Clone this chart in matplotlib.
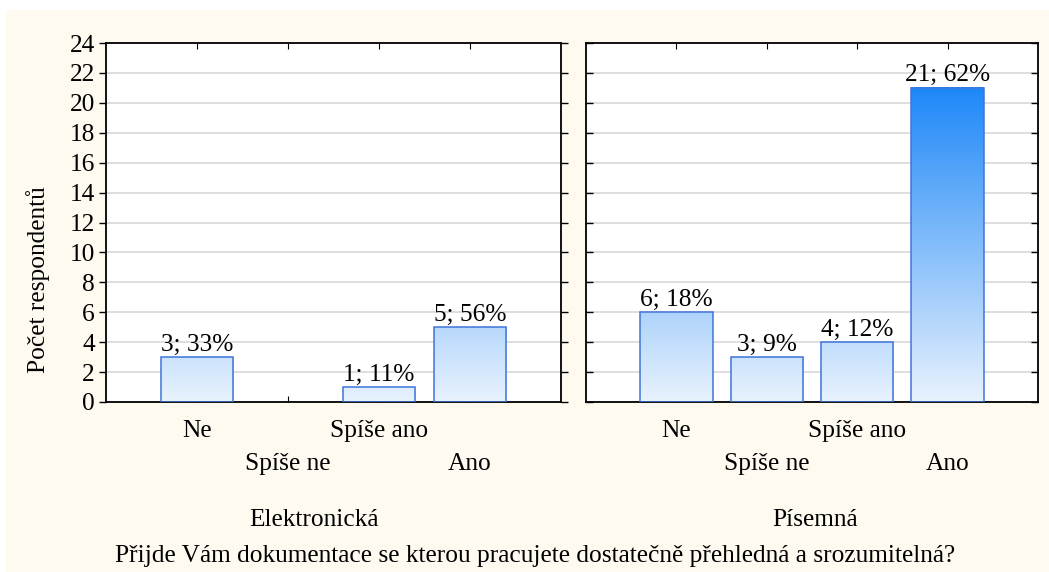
import numpy as np
import matplotlib
matplotlib.use("Agg")
import matplotlib.pyplot as plt
from matplotlib.colors import LinearSegmentedColormap
from matplotlib.patches import Rectangle

plt.rcParams['font.family'] = ['Liberation Serif', 'DejaVu Serif']

categories = ["Ne", "Spíše ne", "Spíše ano", "Ano"]
groups = ["Elektronická", "Písemná"]
counts_el = [3, 0, 1, 5]
pct_el = [33, 0, 11, 56]
counts_pis = [6, 3, 4, 21]
pct_pis = [18, 9, 12, 62]
ylabel = "Počet respondentů"
title = "Přijde Vám dokumentace se kterou pracujete dostatečně přehledná a srozumitelná?"

W, H = 1049, 572
fig = plt.figure(figsize=(W / 100, H / 100), dpi=100, facecolor='white')
cream = '#fefaf0'
fig.patches.append(Rectangle((6 / W, 0), 1 - 6 / W, 1 - 10 / H, transform=fig.transFigure,
                             facecolor=cream, edgecolor='none', zorder=-10))

cmap = LinearSegmentedColormap.from_list('bl', ['#e8f2fd', '#1e88f8'])
vmax = max(counts_el + counts_pis)
fs = 18.3


def panel(left, right, counts, pcts, show_y):
    ax = fig.add_axes([left / W, 1 - 402 / H, (right - left) / W, (402 - 43) / H])
    ax.set_facecolor('white')
    ax.yaxis.grid(True, color='#d8d8d8', linewidth=1.2)
    ax.set_axisbelow(True)
    x = np.arange(1, 5)
    for xi, c, p in zip(x, counts, pcts):
        if c <= 0:
            continue
        grad = np.linspace(0, c, 200).reshape(-1, 1)
        ax.imshow(grad, cmap=cmap, vmin=0, vmax=vmax, origin='lower', aspect='auto',
                  extent=(xi - 0.4, xi + 0.4, 0, c), zorder=2, interpolation='bilinear')
        ax.add_patch(Rectangle((xi - 0.4, 0), 0.8, c, facecolor='none',
                               edgecolor='#3f74da', linewidth=1.1, zorder=3))
        ax.text(xi, c + 0.1, f"{c}; {p}%", ha='center', va='bottom', fontsize=fs, zorder=4)
    ax.set_xlim(0, 5)
    ax.set_ylim(0, 24)
    ax.set_yticks(np.arange(0, 25, 2))
    ax.set_xticks(x)
    ax.set_xticklabels([])
    ax.tick_params(axis='x', direction='in', length=4, top=True, bottom=True)
    ax.tick_params(axis='y', labelsize=fs, length=5, width=1, right=True, pad=3)
    if show_y:
        ax.tick_params(axis='y', which='both', direction='out', left=True)
        ax.set_ylabel(ylabel, fontsize=fs, va='center')
        ax.yaxis.set_label_coords(-0.149, 0.34)
    else:
        ax.tick_params(axis='y', direction='in', labelleft=False)
    for s in ax.spines.values():
        s.set_linewidth(1.3)
        s.set_color('black')
    # staggered category labels
    for i, (xi, lab) in enumerate(zip(x, categories)):
        yy = -1.95 if i % 2 == 0 else -4.15
        ax.text(xi, yy, lab, ha='center', va='center', fontsize=fs, clip_on=False)
    return ax


ax1 = panel(106, 561, counts_el, pct_el, True)
ax2 = panel(586, 1038, counts_pis, pct_pis, False)
ax2.tick_params(axis='y', which='both', left=True, direction='in')

fig.text(314 / W, 1 - 520 / H, groups[0], ha='center', va='center', fontsize=fs)
fig.text(815 / W, 1 - 520 / H, groups[1], ha='center', va='center', fontsize=fs)
fig.text(535 / W, 1 - 556 / H, title, ha='center', va='center', fontsize=fs)

fig.savefig('out.png', dpi=100, facecolor=fig.get_facecolor())
